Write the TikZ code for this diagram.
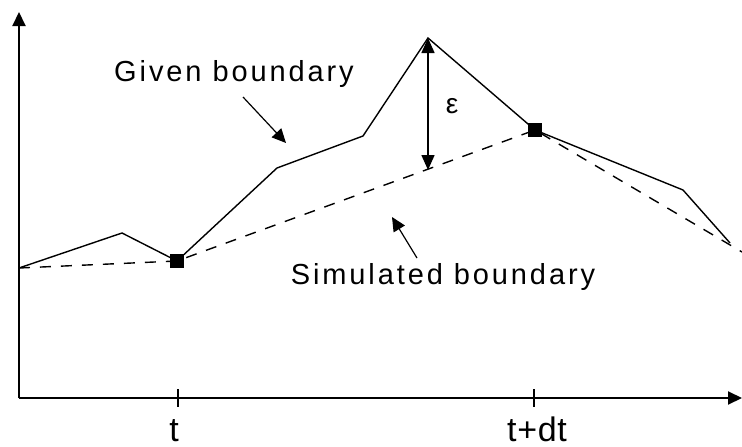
\documentclass[tikz,border=0pt]{standalone}
\usepackage{fontspec}
\setmainfont{Liberation Sans}
\usetikzlibrary{arrows.meta}
\begin{document}
\begin{tikzpicture}[x=1pt,y=-1pt,
  axis/.style={line width=2pt,-{Triangle[length=14pt,width=13pt]}},
  given/.style={line width=1.4pt},
  simul/.style={line width=1.4pt,dash pattern=on 11pt off 10pt},
  marker/.style={fill=black,minimum size=14pt,inner sep=0pt},
  lbl/.style={font=\fontsize{29}{34}\selectfont\addfontfeature{LetterSpace=10}},
  tlbl/.style={font=\fontsize{34}{38}\selectfont\addfontfeature{LetterSpace=2},anchor=base,inner sep=0pt},
  pointer/.style={line width=1.2pt,-{Triangle[length=14pt,width=13pt]}},
  eps/.style={line width=1.6pt,{Triangle[length=15pt,width=13pt]}-{Triangle[length=15pt,width=13pt]}}]
\useasboundingbox (0,0) rectangle (742,447);
% axes
\coordinate (O) at (19,398);
\coordinate (Ytop) at (19,12);
\coordinate (Xend) at (742,398);
\draw[line width=2pt] (19,398) -- (19,380);
\draw[axis] (O) -- (Ytop);
\draw[axis] (O) -- (Xend);
% ticks
\coordinate (t1a) at (178,389); \coordinate (t1b) at (178,407);
\coordinate (t2a) at (534,389); \coordinate (t2b) at (534,407);
\draw[line width=1.4pt] (t1a) -- (t1b);
\draw[line width=1.4pt] (t2a) -- (t2b);
\node[tlbl] (lt) at (174,441) {t};
\node[tlbl] (ltdt) at (537,441) {t+dt};
% points
\coordinate (p0) at (19,268);
\coordinate (p1) at (122,233);
\node[marker] (s1) at (177,261) {};
\coordinate (p3) at (277,168);
\coordinate (p4) at (363,136);
\coordinate (pk) at (428,38);
\node[marker] (s2) at (535,130) {};
\coordinate (p6) at (683,190);
\coordinate (p7) at (730,243);
\coordinate (q7) at (742,252);
\coordinate (epsb) at (428,170);
% given boundary
\draw[given] (p0) -- (p1) -- (s1.center) -- (p3) -- (p4) -- (pk) -- (s2.center) -- (p6) -- (p7);
% simulated boundary
\draw[simul] (p0) -- (s1.center) -- (s2.center) -- (q7);
% epsilon
\draw[eps] (pk) -- (epsb);
\node[font=\fontsize{28}{30}\selectfont] (e) at (452,106) {ε};
% labels
\node[lbl] (gb) at (234,74) {Given boundary};
\coordinate (ga) at (243,97);
\coordinate (gt) at (286,143);
\draw[pointer] (ga) -- (gt);
\node[lbl] (sb) at (443,277) {Simulated boundary};
\coordinate (sa) at (417,258);
\coordinate (st) at (392,217);
\draw[pointer] (sa) -- (st);
\end{tikzpicture}
\end{document}
